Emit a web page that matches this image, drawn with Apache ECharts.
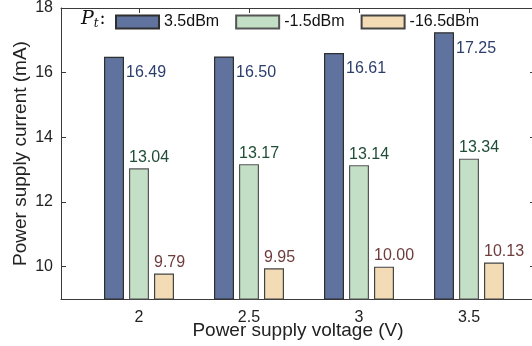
<!DOCTYPE html>
<html>
<head>
<meta charset="utf-8">
<script src="https://cdn.jsdelivr.net/npm/echarts@6/dist/echarts.min.js"></script>
<style>
  html, body { margin: 0; padding: 0; background: #fff; }
  #chart { width: 532px; height: 346px; }
</style>
</head>
<body>
<div id="chart"></div>
<script>
// Supply voltage settings (V) and measured supply current (mA) per transmit power
const voltages = [2, 2.5, 3, 3.5];
const seriesNames = ['3.5dBm', '-1.5dBm', '-16.5dBm'];
const current_3p5dBm = [16.49, 16.50, 16.61, 17.25];
const current_m1p5dBm = [13.04, 13.17, 13.14, 13.34];
const current_m16p5dBm = [9.79, 9.95, 10.00, 10.13];
const yTicks = [10, 12, 14, 16, 18];

const FONT = '"Liberation Sans", Arial, Helvetica, sans-serif';
const AXIS_COLOR = '#3a3a3a';

const fills = ['#5f739e', '#c3dfc6', '#f3dcb5'];
const borders = ['#2f2f2f', '#555555', '#444444'];
const labelColors = ['#2c3e6c', '#1f4d35', '#6e3c3c'];
const values = [current_3p5dBm, current_m1p5dBm, current_m16p5dBm];

const chart = echarts.init(document.getElementById('chart'), null, { renderer: 'canvas' });

function barSeries(i) {
  const sideLabel = i === 0;
  return {
    name: seriesNames[i],
    type: 'bar',
    xAxisIndex: 0,
    yAxisIndex: 0,
    barWidth: 20,
    barGap: '25%',
    data: voltages.map((v, k) => [v, values[i][k]]),
    itemStyle: { color: fills[i], borderColor: borders[i], borderWidth: 1.2 },
    label: {
      show: true,
      formatter: p => p.value[1].toFixed(2),
      position: sideLabel ? [22, 8] : [0, -3],
      align: 'left',
      verticalAlign: sideLabel ? 'top' : 'bottom',
      color: labelColors[i],
      fontFamily: FONT,
      fontSize: 16
    },
    emphasis: { disabled: true }
  };
}

const xMin = 1.6455, xMax = 3.8;

chart.setOption({
  animation: false,
  backgroundColor: '#ffffff',
  grid: { left: 61, top: 8, right: -3, bottom: 47, containLabel: false, outerBoundsMode: 'none' },
  legend: {
    data: seriesNames,
    left: 110,
    top: 9,
    itemWidth: 43,
    itemHeight: 13,
    itemGap: 16,
    icon: 'rect',
    textStyle: { fontFamily: FONT, fontSize: 16, color: '#111' },
    selectedMode: false
  },
  xAxis: [
    {
      type: 'value', position: 'bottom', min: xMin, max: xMax,
      name: 'Power supply voltage (V)', nameLocation: 'middle', nameGap: 22, nameMoveOverlap: false,
      nameTextStyle: { fontFamily: FONT, fontSize: 19, color: '#222' },
      axisLine: { show: true, onZero: false, lineStyle: { color: AXIS_COLOR, width: 1 } },
      axisTick: { show: true, inside: true, length: 5, customValues: voltages, lineStyle: { color: AXIS_COLOR } },
      axisLabel: { customValues: voltages, margin: 11, fontFamily: FONT, fontSize: 16, color: '#222',
                   formatter: v => String(v) },
      splitLine: { show: false }
    },
    {
      type: 'value', position: 'top', min: xMin, max: xMax,
      axisLine: { show: true, onZero: false, lineStyle: { color: AXIS_COLOR, width: 1 } },
      axisTick: { show: true, inside: true, length: 5, customValues: voltages, lineStyle: { color: AXIS_COLOR } },
      axisLabel: { show: false },
      splitLine: { show: false }
    }
  ],
  yAxis: [
    {
      type: 'value', position: 'left', min: 9, max: 18,
      name: 'Power supply current (mA)', nameLocation: 'middle', nameGap: 31, nameMoveOverlap: false,
      nameTextStyle: { fontFamily: FONT, fontSize: 19, color: '#222' },
      axisLine: { show: true, onZero: false, lineStyle: { color: AXIS_COLOR, width: 1 } },
      axisTick: { show: true, inside: true, length: 5, customValues: yTicks, lineStyle: { color: AXIS_COLOR } },
      axisLabel: { customValues: yTicks, margin: 8, fontFamily: FONT, fontSize: 16, color: '#222' },
      splitLine: { show: false }
    },
    {
      type: 'value', position: 'right', min: 9, max: 18,
      axisLine: { show: true, onZero: false, lineStyle: { color: AXIS_COLOR, width: 1 } },
      axisTick: { show: true, inside: true, length: 5, customValues: yTicks, lineStyle: { color: AXIS_COLOR } },
      axisLabel: { show: false },
      splitLine: { show: false }
    }
  ],
  graphic: [
    {
      type: 'text',
      left: 81,
      top: 10,
      style: {
        text: '{p|P}{t|t}{c|:}',
        rich: {
          p: { fontFamily: '"DejaVu Serif", "Liberation Serif", serif', fontStyle: 'italic', fontSize: 19, fill: '#111' },
          t: { fontFamily: '"DejaVu Serif", "Liberation Serif", serif', fontStyle: 'italic', fontSize: 12, fill: '#111', padding: [8, 1, 0, 0] },
          c: { fontFamily: '"DejaVu Serif", "Liberation Serif", serif', fontSize: 18, fill: '#111' }
        }
      }
    }
  ],
  series: [barSeries(0), barSeries(1), barSeries(2)]
});
</script>
</body>
</html>
